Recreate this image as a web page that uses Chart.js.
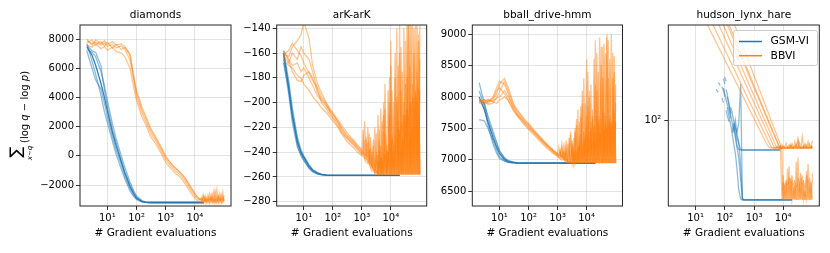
<!DOCTYPE html>
<html>
<head>
<meta charset="utf-8">
<script src="https://cdn.jsdelivr.net/npm/chart.js@4.4.1/dist/chart.umd.min.js"></script>
<style>
  body { margin: 0; background: #fff; }
  #wrap { position: relative; width: 830px; height: 253px; }
  #wrap canvas { position: absolute; top: 0; }
</style>
</head>
<body>
<div id="wrap">
  <canvas id="c1" width="240" height="253" style="left:0px"></canvas>
  <canvas id="c2" width="195" height="253" style="left:240px"></canvas>
  <canvas id="c3" width="195" height="253" style="left:435px"></canvas>
  <canvas id="c4" width="200" height="253" style="left:630px"></canvas>
</div>
<script>
// gradient evaluation grids
const xGsm = [2, 3, 4, 6, 8, 10, 15, 20, 30, 40, 60, 80, 100, 150, 200, 300, 500, 700, 1000, 2000, 3000, 5000, 10000, 20000];
const xBbvi = [2, 3, 4, 6, 8, 10, 15, 20, 30, 40, 60, 80, 100, 150, 200, 300, 500, 700, 1000,
  1100, 1250, 1400, 1600, 1800, 2000, 2200, 2500, 2800, 3200, 3600, 4000, 4500, 5000, 5600, 6300, 7100, 8000, 9000, 10000, 11000, 12500, 14000,
  16000, 18000, 20000, 22500, 25000, 28000, 32000, 36000, 40000, 45000, 50000, 56000, 63000, 71000, 80000, 90000, 100000];
const xHudsonGsm = [50, 60, 70, 80, 90, 100, 110, 120, 140, 160, 180, 200, 230, 260, 300, 350, 400, 450, 500, 600, 800, 1000, 2000, 5000, 8000, 10000, 20000];
// x of the dense noisy part of BBVI (drawn as a filled band)
const xBand = [3200, 3600, 4000, 4500, 5000, 5600, 6300, 7100, 8000, 9000, 10000, 11000, 12500, 14000, 16000, 18000, 20000,
  22500, 25000, 28000, 32000, 36000, 40000, 45000, 50000, 56000, 63000, 71000, 80000, 90000, 100000];
const xHudsonBand = [9000, 10000, 11000, 12500, 14000, 16000, 18000, 20000, 22500, 25000, 28000, 32000, 36000, 40000, 45000,
  50000, 56000, 63000, 71000, 80000, 90000, 100000];
const xTicks = [10, 100, 1000, 10000];

// tick labels on the value axes
const diamondsYTicks = [-2000, 0, 2000, 4000, 6000, 8000];
const arkYTicks = [-280, -260, -240, -220, -200, -180, -160, -140];
const bballYTicks = [6500, 7000, 7500, 8000, 8500, 9000];
const hudsonYTicks = [100];

// diamonds
const diamondsGsm = [
  [7500,6900,6200,5000,4000,3100,1600,700,-400,-1200,-2100,-2600,-2900,-3120,-3180,-3200,-3200,-3200,-3200,-3200,-3200,-3200,-3200,-3200],
  [7700,6500,5600,4200,3000,2300,1000,100,-900,-1600,-2400,-2800,-3000,-3150,-3190,-3200,-3200,-3200,-3200,-3200,-3200,-3200,-3200,-3200],
  [7300,7100,6800,5800,4800,3800,2200,1200,0,-800,-1800,-2400,-2750,-3050,-3170,-3200,-3200,-3200,-3200,-3200,-3200,-3200,-3200,-3200],
  [7600,7200,7100,6200,4500,3400,1800,900,-300,-1100,-2000,-2500,-2850,-3100,-3190,-3200,-3200,-3200,-3200,-3200,-3200,-3200,-3200,-3200],
  [7200,6000,5200,4600,3600,2700,1300,400,-600,-1400,-2250,-2700,-2950,-3140,-3195,-3200,-3200,-3200,-3200,-3200,-3200,-3200,-3200,-3200]
];
const diamondsBbvi = [
  [7900,7700,7800,7600,7750,7500,7650,7400,7550,7300,6600,5200,4100,3000,2450,1600,900,350,-250,
   -350,-500,-620,-750,-870,-960,-1040,-1130,-1220,-1330,-1440,-1560,-1690,-1830,-1980,-2150,-2320,-2480,-2620,-2750,-2850,-2950,-3020,
   -2900,-3150,-2700,-3200,-2850,-3100,-2600,-3180,-2900,-3220,-2500,-3150,-2800,-3200,-2650,-3100,-2950],
  [7750,7950,7600,7850,7550,7800,7400,7650,7300,7450,6900,5500,4300,3200,2650,1800,1050,500,-100,
   -200,-350,-470,-600,-720,-810,-890,-980,-1070,-1180,-1290,-1410,-1540,-1680,-1830,-2000,-2170,-2330,-2480,-2620,-2740,-2860,-2960,
   -3050,-2750,-3180,-2950,-3220,-2700,-3150,-2850,-3100,-2400,-3200,-2900,-3150,-2600,-3180,-2850,-3100],
  [7600,7450,7700,7350,7500,7250,7450,7150,7050,6800,6000,4700,3800,2700,2200,1350,700,150,-450,
   -550,-690,-800,-930,-1040,-1130,-1210,-1300,-1390,-1500,-1620,-1740,-1880,-2020,-2170,-2340,-2500,-2650,-2790,-2900,-2990,-3080,-3150,
   -3200,-2950,-3220,-2750,-3150,-2950,-3230,-2700,-3200,-2950,-3150,-2350,-3220,-2900,-3150,-2500,-3200],
  [8000,7600,7950,7700,7900,7650,7850,7600,7700,7500,7000,5400,4500,3400,2800,1950,1150,600,0,
   -120,-280,-400,-540,-660,-750,-840,-940,-1030,-1140,-1250,-1360,-1480,-1620,-1770,-1930,-2100,-2260,-2420,-2570,-2700,-2830,-2930,
   -3010,-3080,-2800,-3150,-3000,-3220,-2900,-3100,-2650,-3180,-3000,-3220,-2750,-3100,-2950,-3200,-2700]
];

// arK-arK
const arkGsm = [
  [-160,-188,-210,-232,-240,-244,-251,-254.5,-257,-258,-258.5,-258.7,-258.7,-258.7,-258.7,-258.7,-258.7,-258.7,-258.7,-258.7,-258.7,-258.7,-258.7,-258.7],
  [-158,-182,-204,-228,-238,-243,-250,-254,-256.5,-257.8,-258.5,-258.7,-258.7,-258.7,-258.7,-258.7,-258.7,-258.7,-258.7,-258.7,-258.7,-258.7,-258.7,-258.7],
  [-165,-193,-216,-236,-243,-247,-253,-256,-257.8,-258.3,-258.6,-258.7,-258.7,-258.7,-258.7,-258.7,-258.7,-258.7,-258.7,-258.7,-258.7,-258.7,-258.7,-258.7],
  [-168,-190,-212,-234,-242,-246,-252.5,-255.5,-257.5,-258.2,-258.6,-258.7,-258.7,-258.7,-258.7,-258.7,-258.7,-258.7,-258.7,-258.7,-258.7,-258.7,-258.7,-258.7],
  [-162,-185,-207,-230,-241,-245,-252,-255,-257.3,-258,-258.5,-258.7,-258.7,-258.7,-258.7,-258.7,-258.7,-258.7,-258.7,-258.7,-258.7,-258.7,-258.7,-258.7]
];
const arkBbvi = [
  [-160,-163,-155,-150,-145,-135,-148,-170,-185,-192,-200,-205,-208,-214,-218,-224,-230,-234,-238,
   -239,-215,-242,-244,-225,-248,-250,-230,-254,-256,-210,-258,-245,-258,-200,-258,-235,-258,-180,-258,-225,-258,-160,
   -258,-215,-258,-190,-258,-140,-258,-205,-258,-170,-258,-130,-258,-195,-258,-150,-258],
  [-158,-165,-170,-168,-175,-172,-180,-186,-195,-198,-203,-207,-210,-216,-221,-227,-232,-236,-240,
   -241,-243,-228,-246,-248,-236,-251,-253,-220,-257,-258,-238,-258,-215,-258,-242,-258,-190,-258,-230,-258,-200,-258,
   -140,-258,-222,-258,-175,-258,-210,-258,-135,-258,-200,-258,-160,-258,-135,-258,-190],
  [-162,-168,-160,-165,-155,-160,-165,-175,-190,-200,-205,-210,-213,-219,-224,-229,-234,-238,-242,
   -243,-245,-246,-232,-250,-252,-240,-255,-257,-225,-258,-250,-205,-258,-245,-185,-258,-240,-258,-150,-258,-235,-258,
   -195,-258,-137,-258,-228,-258,-150,-258,-215,-258,-137,-258,-205,-258,-175,-258,-137],
  [-165,-170,-172,-178,-180,-185,-190,-195,-200,-204,-208,-212,-215,-220,-225,-231,-236,-240,-243,
   -222,-246,-248,-249,-238,-253,-255,-245,-258,-240,-258,-222,-258,-248,-258,-225,-258,-245,-210,-258,-190,-258,-232,
   -258,-170,-258,-237,-258,-200,-258,-137,-258,-225,-258,-185,-258,-137,-258,-210,-258],
  [-161,-158,-152,-158,-162,-168,-176,-182,-188,-195,-201,-206,-209,-215,-220,-226,-231,-235,-239,
   -240,-242,-244,-220,-247,-249,-251,-235,-254,-256,-257,-230,-258,-250,-258,-205,-258,-240,-258,-170,-258,-245,-258,
   -200,-258,-160,-258,-230,-258,-185,-258,-137,-258,-220,-258,-140,-258,-200,-258,-165],
  [-159,-166,-175,-182,-183,-178,-175,-180,-192,-197,-202,-208,-212,-217,-223,-228,-233,-237,-241,
   -242,-230,-245,-247,-249,-228,-252,-254,-256,-242,-258,-258,-235,-258,-210,-258,-250,-258,-200,-258,-240,-258,-180,
   -258,-230,-258,-155,-258,-215,-258,-180,-258,-137,-258,-220,-258,-190,-258,-145,-258]
];
const arkBand = [-250,-247,-249,-244,-247,-241,-245,-238,-242,-234,-239,-230,-236,-226,-232,-222,-228,-216,-224,-210,
  -220,-205,-214,-200,-210,-196,-206,-192,-202,-188,-198];

// bball_drive-hmm
const bballGsm = [
  [8000,7800,7600,7350,7200,7100,7000,6970,6955,6950,6945,6945,6945,6945,6945,6945,6945,6945,6945,6945,6945,6945,6945,6945],
  [8230,7900,7650,7400,7250,7130,7020,6980,6960,6950,6945,6945,6945,6945,6945,6945,6945,6945,6945,6945,6945,6945,6945,6945],
  [7950,7900,7700,7450,7280,7150,7030,6985,6960,6952,6945,6945,6945,6945,6945,6945,6945,6945,6945,6945,6945,6945,6945,6945],
  [7640,7620,7500,7300,7150,7050,6980,6960,6950,6947,6945,6945,6945,6945,6945,6945,6945,6945,6945,6945,6945,6945,6945,6945],
  [8100,7850,7550,7250,7100,7020,6975,6955,6950,6946,6945,6945,6945,6945,6945,6945,6945,6945,6945,6945,6945,6945,6945,6945]
];
const bballBbvi = [
  [7950,7920,7900,7950,8050,8200,8300,8150,7900,7800,7700,7620,7580,7480,7420,7330,7220,7160,7100,
   7080,7150,7050,7030,7100,7000,6980,7200,6960,6950,7350,6945,7100,6945,7600,6945,7250,6945,7900,6945,7400,6945,8200,
   6945,7550,6945,8700,6945,7700,6945,8300,6945,7600,6945,8900,6945,7500,6945,8400,6945],
  [7920,7950,7880,7900,7980,8000,8100,8000,7850,7750,7650,7580,7540,7450,7390,7300,7200,7140,7080,
   7200,7060,7040,7120,7010,6990,7250,6970,6955,7150,6945,7450,6945,7200,6945,7700,6945,7300,6945,8600,6945,7450,6945,
   7800,6945,8900,6945,7600,6945,8500,6945,7750,6945,9000,6945,7700,6945,8700,6945,7600],
  [7900,7880,7930,8000,8150,8250,8200,8050,7820,7720,7620,7550,7500,7420,7360,7280,7180,7120,7060,
   7040,7020,7180,7000,6980,7300,6960,6950,7400,6945,7100,6945,7650,6945,7300,6945,8100,6945,7400,6945,7850,6945,7500,
   6945,8600,6945,7700,6945,8950,6945,7800,6945,8700,6945,7650,6945,9000,6945,7750,6945],
  [7940,7900,7950,7920,7900,7950,8000,7950,7780,7700,7600,7530,7480,7400,7340,7250,7160,7100,7050,
   7030,7010,6995,7200,6975,6965,6955,7350,6945,7250,6945,7100,6945,7800,6945,7400,6945,8300,6945,7550,6945,8000,6945,
   7650,6945,7500,6945,8400,6945,7650,6945,8850,6945,7500,6945,8600,6945,7800,6945,8200],
  [7930,7960,7920,7980,8100,8150,8050,7950,7800,7720,7640,7570,7520,7440,7380,7290,7190,7130,7070,
   7050,7120,7030,7010,7220,6990,6970,6960,7450,6945,7150,6945,7550,6945,7250,6945,7900,6945,7350,6945,8400,6945,7600,
   6945,7450,6945,8100,6945,7550,6945,8800,6945,7700,6945,8300,6945,7550,6945,8650,6945],
  [7910,7940,7960,7930,7990,8080,8250,8100,7880,7780,7680,7600,7560,7460,7400,7310,7210,7150,7090,
   7070,7050,7250,7020,7000,7150,6975,6960,6950,7300,6945,7500,6945,7150,6945,7850,6945,7450,6945,7700,6945,8100,6945,
   7700,6945,8200,6945,7650,6945,8800,6945,7450,6945,8950,6945,7600,6945,8300,6945,7900]
];
const bballBand = [6990,7020,7000,7050,7030,7080,7060,7110,7090,7150,7120,7200,7160,7250,7200,7300,7250,7350,7300,7420,
  7360,7480,7400,7520,7440,7580,7470,7600,7500,7620,7520];

// hudson_lynx_hare (log y)
const hudsonGsm = [
  [null,125,123,null,121,117,113,110,106,101,null,96,92,86,84,83.7,83.7,83.7,83.7,83.7,83.7,83.7,83.7,83.7,83.7,null,null],
  [null,null,null,null,128,124,null,115,109,103,98,94,100,92,88,76,62.5,62.2,62.2,62.2,62.2,62.2,62.2,62.2,62.2,62.2,62.2],
  [120,118,null,114,111,null,106,103,99,null,93,97,90,85,80,70,63,62.2,62.2,62.2,62.2,62.2,62.2,62.2,62.2,62.2,62.2],
  [null,null,null,null,null,129,126,null,null,108,104,100,96,93,98,124,62.2,62.2,62.2,62.2,62.2,62.2,62.2,62.2,62.2,62.2,62.2],
  [null,null,null,null,null,null,120,117,110,104,null,98,95,90,87,84,83.7,83.7,83.7,83.7,83.7,83.7,83.7,83.7,83.7,null,null],
  [null,null,null,122,119,115,null,108,102,97,92,87,82,75,66,62.5,62.2,62.2,62.2,62.2,62.2,62.2,62.2,62.2,62.2,62.2,62.2]
];
const hudsonBbvi = [
  [400,350,320,280,255,240,205,182.7,171.8,164.4,154.6,148,143.1,134.5,128.8,121.1,112.1,106.5,100.9,
   99.5,97.5,95.9,94.0,92.3,90.8,89.5,87.8,86.3,85.3,84.8,84.7,84.9,84.7,84.6,85.2,84.7,84.8,84.7,85.5,84.7,84.6,84.9,
   84.7,86.0,84.7,84.8,85.8,84.7,84.6,87.5,84.7,84.9,84.7,86.2,84.7,84.8,85.0,84.7,88.5],
  [420,380,340,300,270,250,220,196,183.9,175.7,164.8,157.4,151.9,142.5,136.1,127.6,117.7,111.6,105.5,
   103.9,101.8,100.0,97.9,96.1,94.5,93.1,91.2,89.6,87.7,86.1,85.1,84.7,84.8,84.7,85.6,84.7,84.6,86.4,84.7,84.8,84.7,85.2,
   84.7,84.6,86.8,84.7,84.9,84.7,89.5,84.7,84.8,85.4,84.7,84.6,86.1,84.7,84.9,84.7,85.5],
  [450,400,370,320,290,270,235,213,199,189.7,177.3,168.9,162.8,152.1,145.0,135.5,124.5,117.6,110.9,
   109.1,106.8,104.8,102.5,100.5,98.8,97.2,95.1,93.4,91.3,89.5,88.0,86.3,85.2,84.7,84.8,84.7,85.9,84.7,84.6,84.7,87.2,84.7,
   84.8,84.7,85.3,84.6,84.7,86.5,84.7,84.8,84.7,90.8,84.7,84.6,85.1,84.7,86.9,84.7,84.8],
  [470,420,390,340,310,290,250,230,212,202,188.3,179.1,172.3,160.6,152.8,142.5,130.4,123.0,115.6,
   113.8,111.3,109.1,106.6,104.4,102.6,100.9,98.7,96.8,94.5,92.6,90.9,89.1,87.5,85.8,84.9,84.7,84.8,84.6,85.7,84.7,84.8,84.7,
   86.3,84.7,84.6,84.8,88.0,84.7,84.7,85.4,84.6,84.8,84.7,87.0,84.7,84.8,84.6,85.8,84.7],
  [500,450,410,360,330,310,270,250,228,215,200,193,187.3,173.9,165.0,153.1,139.5,131.1,122.8,
   120.7,117.9,115.5,112.7,110.3,108.2,106.3,103.8,101.7,99.2,97.1,95.3,93.2,91.5,89.6,87.7,85.8,84.7,84.8,84.7,85.3,84.6,84.7,
   84.8,86.6,84.7,84.6,85.2,84.7,88.8,84.7,84.8,84.6,85.7,84.7,84.8,87.9,84.7,84.6,85.4],
  [520,470,430,380,350,330,290,270,245,230,215,205,198,190,178.9,165.2,149.4,139.8,130.3,
   127.9,124.7,122.0,118.8,116.1,113.7,111.6,108.8,106.4,103.7,101.3,99.2,96.9,94.9,92.9,90.7,88.6,86.6,62.5,72,62.3,69,62.4,
   76,62.3,70,62.5,68,62.2,80,62.4,71,62.3,67.5,62.2,74,62.4,69,62.3,73],
  [480,440,400,350,320,300,262,242,222,210,196,188,182,170,161.5,150.2,137.3,129.2,121.3,
   119.3,116.6,114.3,111.6,109.3,107.3,105.5,103.1,101.1,98.7,96.7,94.9,92.9,91.3,89.4,87.6,85.9,84.9,84.7,62.4,67,62.2,75,
   62.3,71,62.2,66,62.4,78,62.2,69,62.5,72,62.2,65,62.3,77,62.2,68,62.4]
];
const hudsonBand = [66,69,67,70,68,71,69,72,68,70,67,71,69,73,68,70,67,72,69,71,68,70];

const FONT = 'DejaVu Sans';
const BLUE = 'rgba(31,119,180,0.5)';
const BLUE_DARK = 'rgba(31,119,180,0.9)';
const ORANGE = 'rgba(255,127,14,0.45)';
const ORANGE_FILL = 'rgba(255,127,14,0.35)';
const GRID = 'rgba(176,176,176,0.45)';
const sup = {1: '\u00b9', 2: '\u00b2', 3: '\u00b3', 4: '\u2074'};

function lines(xs, runs, color, firstColor) {
  return runs.map((ys, k) => ({
    data: xs.map((x, i) => ({x: x, y: ys[i]})),
    borderColor: (k === 0 && firstColor) ? firstColor : color,
    borderWidth: 1.3,
    pointRadius: 0,
    tension: 0,
    fill: false,
    spanGaps: false
  }));
}

function band(xs, ys, floor) {
  return {
    data: xs.map((x, i) => ({x: x, y: ys[i]})),
    borderColor: ORANGE,
    borderWidth: 0.8,
    backgroundColor: ORANGE_FILL,
    pointRadius: 0,
    tension: 0,
    fill: {value: floor}
  };
}

function xScale() {
  return {
    type: 'logarithmic', min: 1.16, max: 1.72e5, bounds: 'data',
    afterBuildTicks: ax => { ax.ticks = xTicks.map(v => ({value: v})); },
    afterFit: ax => { ax.height = 47; },
    ticks: {
      callback: v => '10' + sup[Math.round(Math.log10(v))],
      font: {family: FONT, size: 10}, color: '#000', padding: 2, maxRotation: 0, autoSkip: false
    },
    grid: {color: GRID, lineWidth: 0.8, tickColor: '#333', tickLength: 4, tickWidth: 1},
    border: {display: false},
    title: {display: true, text: '# Gradient evaluations', font: {family: FONT, size: 10.5}, color: '#000',
      padding: {top: 0, bottom: 13.7}}
  };
}

function yLinear(min, max, tickValues, width) {
  return {
    type: 'linear', min: min, max: max, bounds: 'data',
    afterFit: ax => { ax.width = width; },
    afterBuildTicks: ax => { ax.ticks = tickValues.map(v => ({value: v})); },
    ticks: {
      callback: v => String(v).replace('-', '\u2212'),
      font: {family: FONT, size: 10}, color: '#000', padding: 2, autoSkip: false
    },
    grid: {color: GRID, lineWidth: 0.8, tickColor: '#333', tickLength: 4, tickWidth: 1},
    border: {display: false}
  };
}

function panelFrame(title) {
  return {
    id: 'frame',
    afterDraw(chart) {
      const {ctx, chartArea: a} = chart;
      ctx.save();
      ctx.strokeStyle = '#262626';
      ctx.lineWidth = 1;
      ctx.strokeRect(a.left, a.top, a.right - a.left, a.bottom - a.top);
      ctx.fillStyle = '#000';
      ctx.font = '10.5px "' + FONT + '"';
      ctx.textAlign = 'center';
      ctx.textBaseline = 'middle';
      ctx.fillText(title, (a.left + a.right) / 2, 15);
      ctx.restore();
    }
  };
}

const yLabel = {
  id: 'yLabel',
  afterDraw(chart) {
    const ctx = chart.ctx;
    ctx.save();
    ctx.rotate(-Math.PI / 2);
    ctx.fillStyle = '#000';
    ctx.textBaseline = 'middle';
    ctx.textAlign = 'center';
    ctx.font = '16px "' + FONT + '"';
    ctx.fillText('\u2211', -152, 17);
    ctx.font = 'italic 7px "' + FONT + '"';
    ctx.fillText('x\u223cq', -153, 30.5);
    ctx.textAlign = 'left';
    const parts = [['(log ', false], ['q', true], [' \u2212 log ', false], ['p', true], [')', false]];
    let u = -143;
    parts.forEach(([t, it]) => {
      ctx.font = (it ? 'italic ' : '') + '10px "' + FONT + '"';
      ctx.fillText(t, u, 25);
      u += ctx.measureText(t).width;
    });
    ctx.restore();
  }
};

const legendBox = {
  id: 'legendBox',
  afterDraw(chart) {
    const ctx = chart.ctx;
    ctx.save();
    ctx.fillStyle = 'rgba(255,255,255,0.8)';
    ctx.strokeStyle = '#cccccc';
    ctx.lineWidth = 1;
    ctx.beginPath();
    ctx.roundRect(103.5, 30.5, 84, 35, 2);
    ctx.fill();
    ctx.stroke();
    const items = [['GSM-VI', '#1f77b4', 41.5], ['BBVI', '#ff7f0e', 55.7]];
    items.forEach(([label, col, y]) => {
      ctx.strokeStyle = col;
      ctx.lineWidth = 1.5;
      ctx.beginPath();
      ctx.moveTo(109, y);
      ctx.lineTo(132, y);
      ctx.stroke();
      ctx.fillStyle = '#000';
      ctx.font = '10.8px "' + FONT + '"';
      ctx.textBaseline = 'middle';
      ctx.fillText(label, 140.5, y);
    });
    ctx.restore();
  }
};

function makeChart(id, title, datasets, yScale, padRight, extra) {
  return new Chart(document.getElementById(id), {
    type: 'line',
    data: {datasets: datasets},
    options: {
      responsive: false,
      animation: false,
      events: [],
      layout: {padding: {left: 0, right: padRight, top: 25, bottom: 0}, autoPadding: false},
      plugins: {
        legend: {display: false},
        tooltip: {enabled: false},
        title: {display: false}
      },
      scales: {x: xScale(), y: yScale}
    },
    plugins: [panelFrame(title)].concat(extra || [])
  });
}

// BBVI first so it is drawn over GSM-VI, as in the figure
makeChart('c1', 'diamonds',
  lines(xBbvi, diamondsBbvi, ORANGE).concat(lines(xGsm, diamondsGsm, BLUE, BLUE_DARK)),
  yLinear(-3441, 8981, diamondsYTicks, 80), 9, [yLabel]);

makeChart('c2', 'arK-arK',
  lines(xBbvi, arkBbvi, ORANGE).concat([band(xBand, arkBand, -258.3)], lines(xGsm, arkGsm, BLUE, BLUE_DARK)),
  yLinear(-283.5, -137.3, arkYTicks, 36.7), 8.3);

makeChart('c3', 'bball_drive-hmm',
  lines(xBbvi, bballBbvi, ORANGE).concat([band(xBand, bballBand, 6948)], lines(xGsm, bballGsm, BLUE, BLUE_DARK)),
  yLinear(6261, 9148, bballYTicks, 37.3), 7.5);

const yHudson = {
  type: 'logarithmic', min: 60, max: 176, bounds: 'data',
  afterFit: ax => { ax.width = 38.3; },
  afterBuildTicks: ax => { ax.ticks = hudsonYTicks.map(v => ({value: v})); },
  ticks: {callback: v => '10' + sup[Math.round(Math.log10(v))], font: {family: FONT, size: 10}, color: '#000', padding: 3},
  grid: {color: GRID, lineWidth: 0.8, tickColor: '#333', tickLength: 4, tickWidth: 1},
  border: {display: false}
};

makeChart('c4', 'hudson_lynx_hare',
  lines(xBbvi, hudsonBbvi, ORANGE).concat([band(xHudsonBand, hudsonBand, 62.2)], lines(xHudsonGsm, hudsonGsm, BLUE)),
  yHudson, 10.7, [legendBox]);
</script>
</body>
</html>
